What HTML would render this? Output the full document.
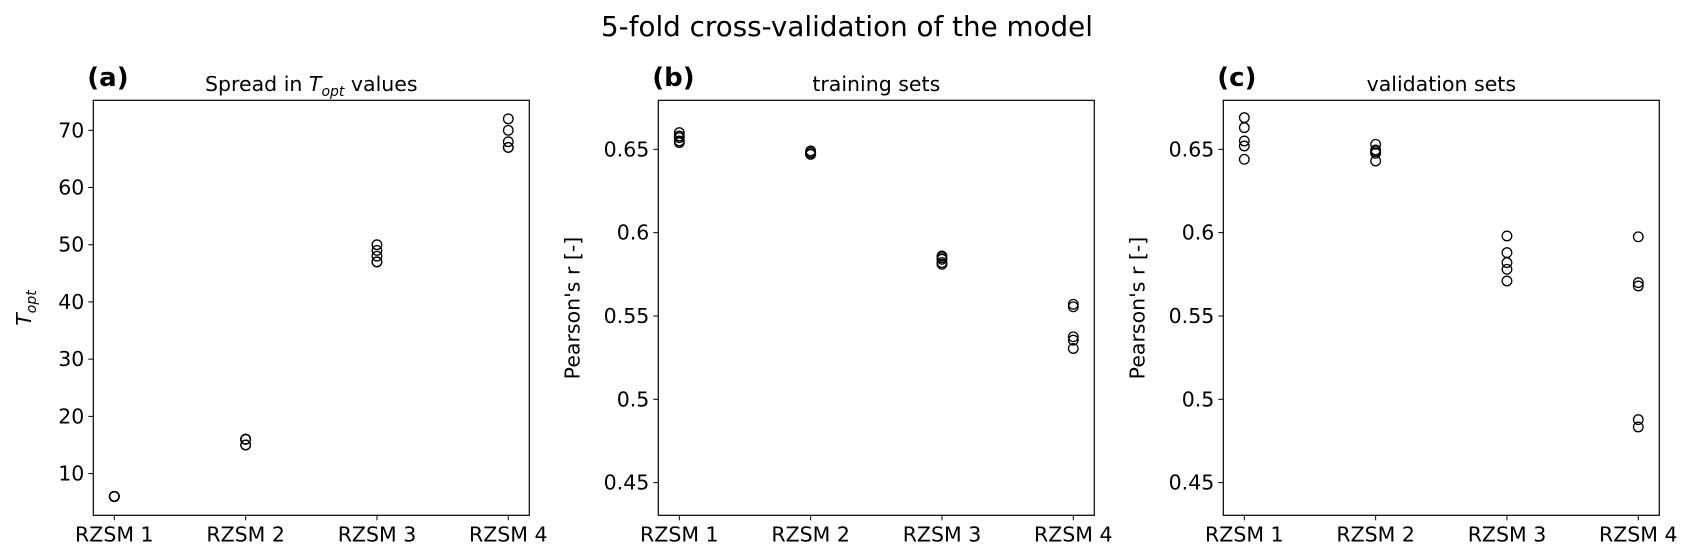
<!DOCTYPE html>
<html><head><meta charset="utf-8"><style>
body{margin:0;background:#fff;}
svg text{font-family:"DejaVu Sans","Liberation Sans",sans-serif;fill:#000;}
</style></head><body>
<svg id="chart" width="1692" height="555" viewBox="0 0 1692 555" xmlns="http://www.w3.org/2000/svg">
<text x="847" y="36" font-size="28" text-anchor="middle" textLength="492" lengthAdjust="spacingAndGlyphs">5-fold cross-validation of the model</text>
</svg>
<script>
const categories = ["RZSM 1","RZSM 2","RZSM 3","RZSM 4"];
const toptValues = [[6,6,6,6,6],[16,16,15,15,16],[50,49,48,47,47],[72,70,68,67,67]];
const trainValues = [[0.660,0.658,0.657,0.655,0.654],[0.649,0.648,0.648,0.647,0.647],[0.586,0.585,0.584,0.582,0.581],[0.557,0.5555,0.5375,0.5355,0.5305]];
const validValues = [[0.669,0.663,0.655,0.652,0.644],[0.653,0.6496,0.6486,0.6476,0.643],[0.598,0.588,0.582,0.578,0.571],[0.5975,0.570,0.568,0.4878,0.4834]];
const toptTicks = [10,20,30,40,50,60,70];
const toptTickLabels = ["10","20","30","40","50","60","70"];
const rTicks = [0.45,0.5,0.55,0.6,0.65];
const rTickLabels = ["0.45","0.5","0.55","0.6","0.65"];

const NS="http://www.w3.org/2000/svg";
const svg=document.getElementById('chart');
function mk(tag,attrs,parent){const e=document.createElementNS(NS,tag);for(const k in attrs)e.setAttribute(k,attrs[k]);(parent||svg).appendChild(e);return e;}
const TOP=100.3,BOT=515.3,W=436;
const panels=[
 {key:'a',left:93.3,ymin:2.71,ymax:75.24,data:toptValues,ticks:toptTicks,labels:toptTickLabels,title:'topt',ylabel:'topt'},
 {key:'b',left:658.3,ymin:0.4304,ymax:0.6794,data:trainValues,ticks:rTicks,labels:rTickLabels,title:'training sets',ylabel:"Pearson's r [-]"},
 {key:'c',left:1223.3,ymin:0.4304,ymax:0.6794,data:validValues,ticks:rTicks,labels:rTickLabels,title:'validation sets',ylabel:"Pearson's r [-]"}
];
panels.forEach(p=>{
  const g=mk('g',{});
  
  
  const xs=i=>p.left+W*(i+0.16)/3.32;
  const ys=v=>BOT-(v-p.ymin)/(p.ymax-p.ymin)*(BOT-TOP);
  p.ticks.forEach((t,i)=>{
    const y=ys(t);
    const tk=mk('line',{x1:p.left-5,x2:p.left,y1:y,y2:y,stroke:'#000','stroke-width':1},g);
    
    
    const tl=mk('text',{x:p.left-9,y:y+7,'font-size':20.5,'text-anchor':'end'},g);
    tl.textContent=p.labels[i];
    
    
  });
  categories.forEach((c,i)=>{
    const x=xs(i);
    const tk=mk('line',{x1:x,x2:x,y1:BOT,y2:BOT+5,stroke:'#000','stroke-width':1},g);
    
    
    const tl=mk('text',{x:x,y:BOT+26,'font-size':20.5,'text-anchor':'middle'},g);
    tl.textContent=c;
    
    
    p.data[i].forEach(v=>{
      const m=mk('circle',{cx:x,cy:ys(v),r:4.8,fill:'none',stroke:'#000','stroke-width':1.3},g);
      
      
    });
  });
  const fr=mk('rect',{x:p.left,y:TOP,width:W,height:BOT-TOP,fill:'none',stroke:'#000','stroke-width':1.2},g);
  
  
  const pl=mk('text',{x:p.left-6,y:86,'font-size':26,'font-weight':'bold'},g);
  pl.textContent='('+p.key+')';
  
  
  const cx=p.left+W/2;
  const ti=mk('text',{x:cx,y:91,'font-size':20.5,'text-anchor':'middle'},g);
  
  
  if(p.title==='topt'){
    ti.innerHTML='Spread in <tspan font-style="italic">T</tspan><tspan font-style="italic" font-size="14" dy="5">opt</tspan><tspan dy="-5"> values</tspan>';
  } else ti.textContent=p.title;
  const yl=mk('text',{'font-size':20.5,'text-anchor':'middle'},g);
  
  
  if(p.ylabel==='topt'){
    yl.setAttribute('transform','translate(31,308) rotate(-90)');
    yl.innerHTML='<tspan font-style="italic">T</tspan><tspan font-style="italic" font-size="14" dy="5">opt</tspan>';
  } else {
    yl.setAttribute('transform','translate('+(p.left-79)+',308) rotate(-90)');
    yl.textContent=p.ylabel;
  }
});
</script>
</body></html>
